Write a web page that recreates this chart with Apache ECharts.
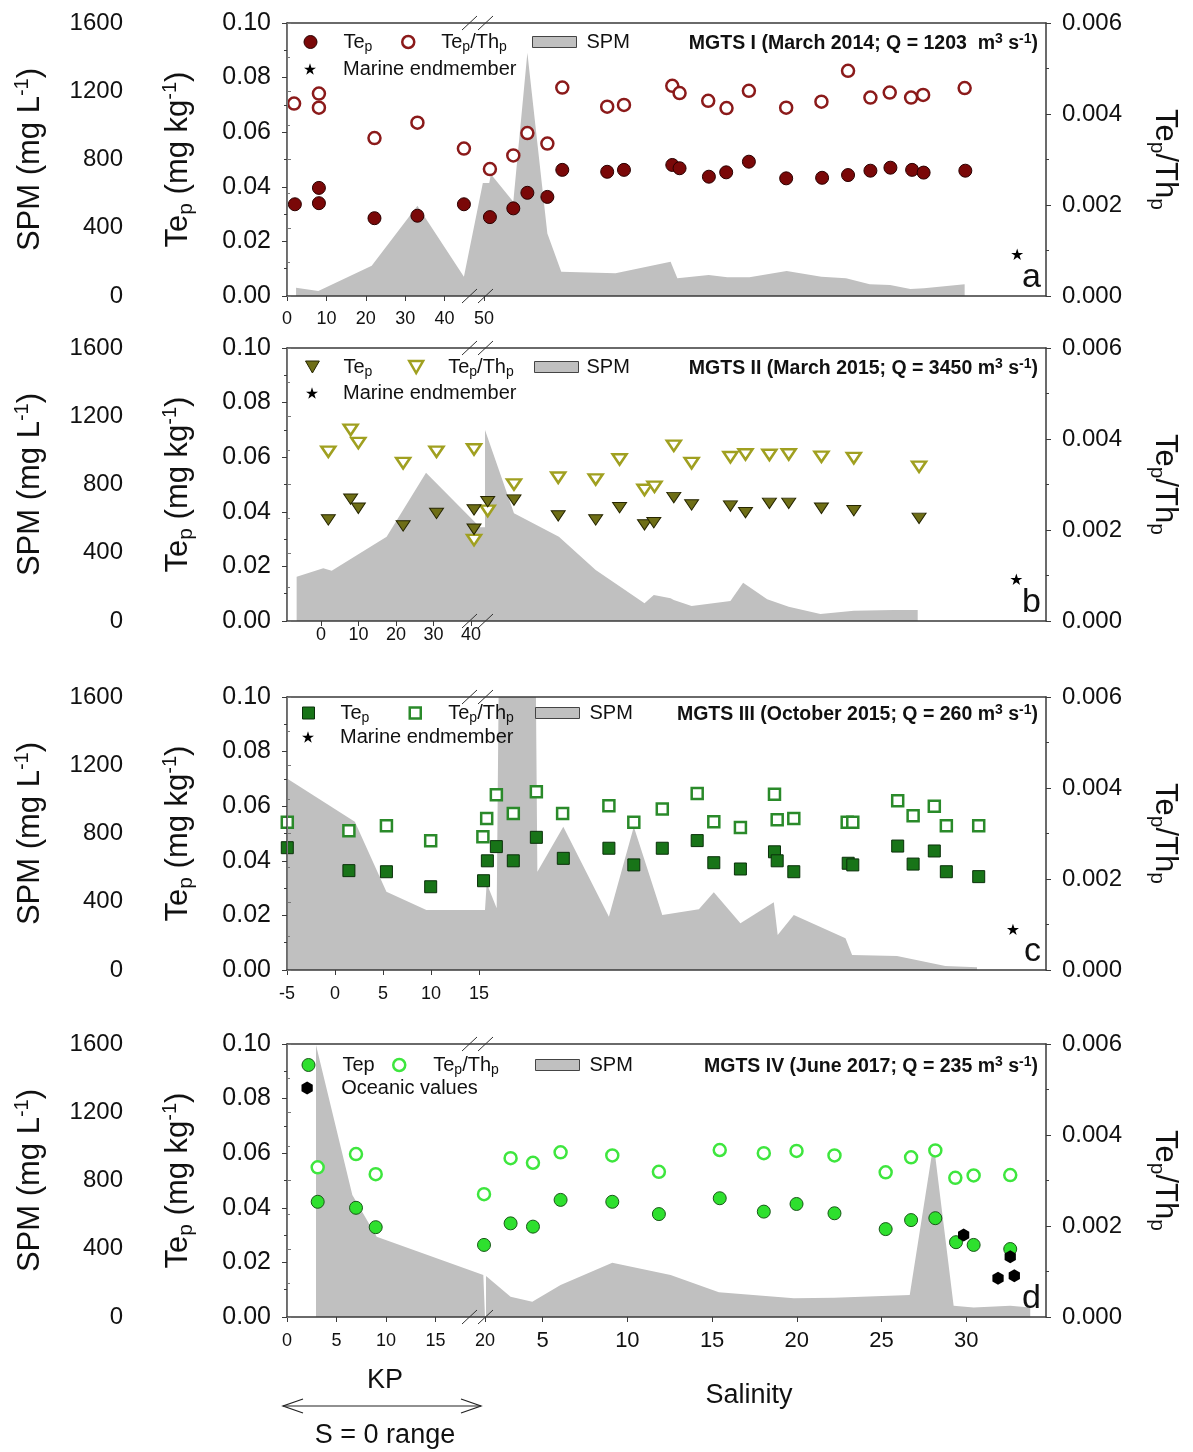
<!DOCTYPE html>
<html><head><meta charset="utf-8">
<script src="https://cdn.jsdelivr.net/npm/echarts@6/dist/echarts.min.js"></script>
<style>html,body{margin:0;padding:0;background:#fff}#c{width:1193px;height:1452px}</style>
</head><body><div id="c"></div><script>
// ===================== DATA =====================
// x: KP (km) on the left part of each panel, salinity on the right part
// Panel a — MGTS I (March 2014)
const aSpmKP  = [[2.3,49],[7.95,29],[21.5,178],[33.1,529],[44.9,113],[49.7,662],[50.25,662]];
const aSpmSal = [[1.6,662],[1.85,662],[1.95,713],[3.27,553],[4.1,1425],[5.28,367],[6.1,142],[9.3,133],[12.55,201],[12.65,197],[12.95,104],[14.8,123],[15.9,110],[17.2,110],[19.4,147],[21.45,113],[22.9,104],[24.3,69],[25.5,64],[26.7,41],[27.5,45],[29.9,69]];
const aTepKP  = [[2.0,0.0336],[8.1,0.0340],[8.1,0.0396],[22.2,0.0285],[33.1,0.0294],[44.9,0.0336]];
const aTepSal = [[1.89,0.0289],[3.27,0.0321],[4.10,0.0378],[5.28,0.0363],[6.16,0.0462],[8.81,0.0455],[9.80,0.0462],[12.65,0.0480],[13.08,0.0468],[14.81,0.0437],[15.83,0.0453],[17.17,0.0492],[19.37,0.0431],[21.49,0.0433],[23.02,0.0443],[24.34,0.0459],[25.52,0.0470],[26.80,0.0462],[27.48,0.0452],[29.94,0.0459]];
const aRatioKP  = [[1.8,0.00423],[8.1,0.00445],[8.1,0.00414],[22.2,0.00347],[33.1,0.00381],[44.9,0.00324]];
const aRatioSal = [[1.89,0.00279],[3.27,0.00309],[4.10,0.00358],[5.28,0.00335],[6.16,0.00458],[8.81,0.00416],[9.80,0.00420],[12.65,0.00462],[13.08,0.00446],[14.77,0.00429],[15.85,0.00413],[17.17,0.00451],[19.37,0.00414],[21.45,0.00427],[23.02,0.00495],[24.34,0.00436],[25.48,0.00447],[26.74,0.00436],[27.45,0.00442],[29.90,0.00457]];
const aMarine = [[33.0,0.0153]];

// Panel b — MGTS II (March 2015)
const bSpmKP  = [[-6.5,260],[0.6,309],[2.85,295],[17.5,494],[28,869],[42.4,549],[43.73,549]];
const bSpmSal = [[1.6,1119],[3.31,631],[5.96,494],[8.13,299],[11.01,104],[11.56,152],[12.55,133],[12.74,123],[13.79,88],[16.08,117],[16.83,224],[18.25,127],[19.52,84],[21.39,41],[23.36,60],[25.7,64],[27.13,64]];
const bTepKP  = [[1.95,0.0370],[7.9,0.0446],[9.95,0.0413],[21.9,0.0348],[30.8,0.0394],[40.8,0.0407],[40.8,0.0336]];
const bTepSal = [[1.76,0.0437],[3.31,0.0443],[5.92,0.0385],[8.13,0.0370],[9.54,0.0415],[11.01,0.0352],[11.56,0.0360],[12.74,0.0452],[13.79,0.0425],[16.08,0.0421],[16.97,0.0397],[18.38,0.0431],[19.52,0.0431],[21.45,0.0413],[23.36,0.0404],[27.21,0.0376]];
const bRatioKP  = [[1.95,0.00372],[7.9,0.00420],[9.95,0.00391],[21.9,0.00347],[30.8,0.00372],[40.8,0.00377],[40.8,0.00178]];
const bRatioSal = [[1.76,0.00242],[3.31,0.00300],[5.92,0.00315],[8.13,0.00311],[9.54,0.00355],[11.01,0.00288],[11.6,0.00295],[12.74,0.00385],[13.79,0.00347],[16.08,0.00360],[16.97,0.00366],[18.38,0.00365],[19.52,0.00366],[21.45,0.00361],[23.36,0.00358],[27.21,0.00339]];
const bMarine = [[32.95,0.0153]];

// Panel c — MGTS III (October 2015)
const cSpmKP  = [[-5,1123],[2.07,869],[5.36,459],[9.52,352],[15.63,352]];
const cSpmSal = [[1.6,352],[1.7,508],[2.29,362],[2.42,1800],[4.59,1800],[4.69,576],[6.22,840],[8.91,312],[10.38,840],[12.06,322],[14.22,356],[15.10,455],[16.67,274],[18.64,397],[18.87,205],[19.82,322],[22.87,186],[23.26,88],[25.91,82],[28.76,23],[30.63,16]];
const cTepKP  = [[-4.97,0.0448],[1.45,0.0364],[5.36,0.0360],[9.97,0.0305],[15.48,0.0327]];
const cTepSal = [[1.74,0.0400],[2.27,0.0452],[3.27,0.0400],[4.63,0.0486],[6.22,0.0409],[8.91,0.0446],[10.38,0.0385],[12.06,0.0446],[14.12,0.0474],[15.10,0.0393],[16.67,0.0370],[18.68,0.0433],[18.84,0.0400],[19.82,0.0360],[23.03,0.0391],[23.30,0.0385],[25.95,0.0454],[26.86,0.0388],[28.11,0.0436],[28.82,0.0360],[30.73,0.0342]];
const cRatioKP  = [[-4.97,0.00325],[1.45,0.00306],[5.36,0.00317],[9.97,0.00284],[15.41,0.00293]];
const cRatioSal = [[1.70,0.00333],[2.27,0.00385],[3.27,0.00344],[4.63,0.00392],[6.18,0.00344],[8.91,0.00361],[10.38,0.00325],[12.06,0.00354],[14.12,0.00388],[15.10,0.00326],[16.67,0.00313],[18.68,0.00386],[18.84,0.00330],[19.82,0.00333],[22.97,0.00325],[23.30,0.00325],[25.95,0.00372],[26.86,0.00339],[28.11,0.00360],[28.82,0.00317],[30.73,0.00317]];
const cMarine = [[32.75,0.0149]];

// Panel d — MGTS IV (June 2017)
const dSpmKP  = [[2.93,1594],[6.6,715],[9.06,471],[19.83,246],[20,246]];
const dSpmSal = [[1.66,240],[3.11,119],[4.39,90],[6.06,188],[9.11,318],[12.55,246],[15.4,145],[19.82,110],[22.2,113],[26.66,129],[28.07,1018],[29.25,66],[30.43,55],[32.59,66],[33.77,55]];
const dTepKP  = [[3.1,0.0422],[6.97,0.0400],[8.96,0.0329],[19.9,0.0264]];
const dTepSal = [[3.11,0.0343],[4.43,0.0331],[6.06,0.0429],[9.11,0.0422],[11.86,0.0377],[15.45,0.0435],[18.05,0.0386],[19.98,0.0414],[22.22,0.0380],[25.24,0.0322],[26.74,0.0355],[28.17,0.0362],[29.39,0.0274],[30.43,0.0264],[32.59,0.0249]];
const dRatioKP  = [[3.1,0.00329],[6.97,0.00358],[8.96,0.00314],[19.9,0.00270]];
const dRatioSal = [[3.11,0.00349],[4.43,0.00339],[6.06,0.00362],[9.11,0.00355],[11.86,0.00319],[15.45,0.00367],[18.05,0.00360],[19.98,0.00365],[22.22,0.00355],[25.24,0.00318],[26.74,0.00351],[28.17,0.00366],[29.35,0.00306],[30.43,0.00311],[32.59,0.00312]];
const dOceanic = [[29.84,0.0300],[32.59,0.0221],[31.87,0.0142],[32.83,0.0151]];

// Tick labels
const aKpTicks = [0,10,20,30,40,50];
const bKpTicks = [0,10,20,30,40];
const cKpTicks = [-5,0,5,10,15];
const dKpTicks = [0,5,10,15,20];
const dSalTicks = [5,10,15,20,25,30];

// ===================== LAYOUT / STYLE =====================
const FONT = "'Liberation Sans', Arial, sans-serif";
const AX = '#3a3a3a';
const SPM_COLOR = '#c0c0c0';
const L = 287, R = 1046, SPLIT = 485, H = 273;
const TRI_DOWN = 'path://M0,0 L12,0 L6,10.4 Z';
const STAR = 'path://M50,0 L61.8,35.4 L99,35.4 L69,57.3 L80.4,92.7 L50,70.8 L19.6,92.7 L31,57.3 L1,35.4 L38.2,35.4 Z';
const HEX = 'path://M50,0 L93.3,25 L93.3,75 L50,100 L6.7,75 L6.7,25 Z';

const panels = [
  { id:'a', top:23, kpMin:0, kpMax:50.25, kpTicks:aKpTicks, salTicks:[], kpMargin:14, salMargin:12,
    spmKP:aSpmKP, spmSal:aSpmSal, tepKP:aTepKP, tepSal:aTepSal, ratioKP:aRatioKP, ratioSal:aRatioSal,
    extra:aMarine, extraName:'Marine endmember', extraSym:STAR, extraSize:12,
    filled:{symbol:'circle', size:13, fill:'#7a0808', stroke:'#2a0000', bw:1},
    open:{symbol:'circle', size:12, fill:'#ffffff', stroke:'#8b1a1a', bw:2.5},
    tepLabel:'{g|}{t|Te}{s|p}', title:'{b|MGTS I (March 2014; Q = 1203  m}{p|3}{b| s}{p|-1}{b|)}',
    leg:{row1:44,row2:71, f:[310,343], o:[407,440], r:[532,586], e:[310,343]}, breakBottom:true },
  { id:'b', top:348, kpMin:-9.07, kpMax:43.73, kpTicks:bKpTicks, salTicks:[], kpMargin:5, salMargin:12,
    spmKP:bSpmKP, spmSal:bSpmSal, tepKP:bTepKP, tepSal:bTepSal, ratioKP:bRatioKP, ratioSal:bRatioSal,
    extra:bMarine, extraName:'Marine endmember', extraSym:STAR, extraSize:12,
    filled:{symbol:TRI_DOWN, size:[14,12], fill:'#6e6e16', stroke:'#252500', bw:1},
    open:{symbol:TRI_DOWN, size:[14,12], fill:'#ffffff', stroke:'#a0a020', bw:2.5},
    tepLabel:'{g|}{t|Te}{s|p}', title:'{b|MGTS II (March 2015; Q = 3450 m}{p|3}{b| s}{p|-1}{b|)}',
    leg:{row1:369,row2:395, f:[312,343], o:[415,447], r:[534,586], e:[312,343]}, breakBottom:true },
  { id:'c', top:697, kpMin:-5, kpMax:15.63, kpTicks:cKpTicks, salTicks:[], kpMargin:15, salMargin:12,
    spmKP:cSpmKP, spmSal:cSpmSal, tepKP:cTepKP, tepSal:cTepSal, ratioKP:cRatioKP, ratioSal:cRatioSal,
    extra:cMarine, extraName:'Marine endmember', extraSym:STAR, extraSize:12,
    filled:{symbol:'rect', size:12, fill:'#187418', stroke:'#0a300a', bw:1},
    open:{symbol:'rect', size:11, fill:'#ffffff', stroke:'#2a8a2a', bw:2.5},
    tepLabel:'{g|}{t|Te}{s|p}', title:'{b|MGTS III (October 2015; Q = 260 m}{p|3}{b| s}{p|-1}{b|)}',
    leg:{row1:715,row2:739, f:[308,340], o:[414,447], r:[535,589], e:[308,340]}, breakBottom:false },
  { id:'d', top:1044, kpMin:0, kpMax:20, kpTicks:dKpTicks, salTicks:dSalTicks, kpMargin:15, salMargin:13,
    spmKP:dSpmKP, spmSal:dSpmSal, tepKP:dTepKP, tepSal:dTepSal, ratioKP:dRatioKP, ratioSal:dRatioSal,
    extra:dOceanic, extraName:'Oceanic values', extraSym:HEX, extraSize:13,
    filled:{symbol:'circle', size:13, fill:'#2ee02e', stroke:'#185818', bw:1},
    open:{symbol:'circle', size:12, fill:'#ffffff', stroke:'#3ee63e', bw:2.5},
    tepLabel:'{g|}{t|Tep}', title:'{b|MGTS IV (June 2017; Q = 235 m}{p|3}{b| s}{p|-1}{b|)}',
    leg:{row1:1067,row2:1090, f:[308,342], o:[398,432], r:[535,589], e:[308,342]}, breakBottom:true }
];

const grid = [], xAxis = [], yAxis = [], series = [], legend = [], title = [], graphic = [];

const nameRich = {
  t:{fontSize:31, lineHeight:37, fontFamily:FONT, color:'#111'},
  s:{fontSize:21, lineHeight:21, fontFamily:FONT, color:'#111', verticalAlign:'bottom'},
  u:{fontSize:20, lineHeight:20, fontFamily:FONT, color:'#111', verticalAlign:'top'}
};
const titleRich = {
  b:{fontSize:19.5, fontWeight:'bold', fontFamily:FONT, color:'#111', lineHeight:24},
  p:{fontSize:14, fontWeight:'bold', fontFamily:FONT, color:'#111', lineHeight:13, verticalAlign:'top'}
};
function legRich(gap){
  return {
    g:{width:gap, height:1},
    t:{fontSize:20, lineHeight:24, fontFamily:FONT, color:'#111'},
    s:{fontSize:14, lineHeight:14, fontFamily:FONT, color:'#111', verticalAlign:'bottom'}
  };
}
function addLegend(name, label, iconLeft, iconW, iconH, textStart, rowY, icon, itemStyle){
  const gap = Math.max(0, textStart - (iconLeft + iconW + 5));
  legend.push({
    left: iconLeft, top: rowY - 12, orient:'horizontal', selectedMode:false,
    itemWidth: iconW, itemHeight: iconH, padding:0,
    data:[{name, icon, itemStyle}],
    formatter: () => label,
    textStyle:{rich: legRich(gap), fontFamily:FONT, fontSize:20, color:'#111'}
  });
}
function hiddenY(gi, max){ return {gridIndex:gi, type:'value', min:0, max, show:false}; }

panels.forEach(p => {
  const T = p.top, B = T + H;
  const gMain = grid.length; grid.push({left:L, top:T, width:R-L, height:H});
  const gKP = grid.length;   grid.push({left:L, top:T, width:SPLIT-L, height:H});
  const gSal = grid.length;  grid.push({left:SPLIT, top:T, width:R-SPLIT, height:H});

  // frame lines (main grid)
  ['bottom','top'].forEach(pos => xAxis.push({gridIndex:gMain, type:'value', min:0, max:1, position:pos, z:10,
    axisLine:{show:true, onZero:false, lineStyle:{color:AX, width:1.5}}, axisTick:{show:false}, axisLabel:{show:false}, splitLine:{show:false}}));
  const xKP = xAxis.length;
  xAxis.push({gridIndex:gKP, type:'value', min:p.kpMin, max:p.kpMax,
    axisLine:{show:false}, splitLine:{show:false},
    axisTick:{show:true, customValues:p.kpTicks, length:5, lineStyle:{color:AX}},
    axisLabel:{show:true, customValues:p.kpTicks, fontSize:18, margin:p.kpMargin, color:'#111', fontFamily:FONT}});
  const xSal = xAxis.length;
  const hasSal = p.salTicks.length > 0;
  xAxis.push({gridIndex:gSal, type:'value', min:1.6, max:34.7,
    axisLine:{show:false}, splitLine:{show:false},
    axisTick:hasSal ? {show:true, customValues:p.salTicks, length:5, lineStyle:{color:AX}} : {show:false},
    axisLabel:hasSal ? {show:true, customValues:p.salTicks, fontSize:22, margin:p.salMargin, color:'#111', fontFamily:FONT} : {show:false}});

  // visible y axes on main grid
  yAxis.push({gridIndex:gMain, type:'value', min:0, max:0.1, interval:0.02, position:'left', z:10,
    axisLine:{show:true, lineStyle:{color:AX, width:1.5}},
    axisTick:{show:true, length:5, lineStyle:{color:AX}},
    minorTick:{show:true, splitNumber:2, length:3, lineStyle:{color:AX}},
    axisLabel:{formatter:v => v.toFixed(2), fontSize:25, margin:16, color:'#111', fontFamily:FONT},
    splitLine:{show:false},
    name:'{t|Te}{s|p}{t| (mg kg}{u|-1}{t|)}', nameLocation:'middle', nameRotate:90, nameGap:90,
    nameTextStyle:{rich:nameRich}});
  yAxis.push({gridIndex:gMain, type:'value', min:0, max:1600, interval:400, position:'left', offset:150, z:10,
    axisLine:{show:true, lineStyle:{color:'#777', width:1}},
    axisTick:{show:true, inside:true, length:4, lineStyle:{color:'#777'}},
    minorTick:{show:true, splitNumber:2, length:3, lineStyle:{color:'#777'}},
    axisLabel:{formatter:v => String(v), fontSize:24, margin:14, color:'#111', fontFamily:FONT},
    splitLine:{show:false},
    name:'{t|SPM (mg L}{u|-1}{t|)}', nameLocation:'middle', nameRotate:90, nameGap:88,
    nameTextStyle:{rich:nameRich}});
  yAxis.push({gridIndex:gMain, type:'value', min:0, max:0.006, interval:0.002, position:'right', z:10,
    axisLine:{show:true, lineStyle:{color:AX, width:1.5}},
    axisTick:{show:true, length:5, lineStyle:{color:AX}},
    minorTick:{show:true, splitNumber:2, length:3, lineStyle:{color:AX}},
    axisLabel:{formatter:v => v.toFixed(3), fontSize:24, margin:16, color:'#111', fontFamily:FONT},
    splitLine:{show:false},
    name:'{t|Te}{s|p}{t|/Th}{s|p}', nameLocation:'middle', nameRotate:-90, nameGap:100,
    nameTextStyle:{rich:nameRich}});

  // hidden y axes for data grids
  const yKP = yAxis.length;  yAxis.push(hiddenY(gKP,0.1), hiddenY(gKP,1600), hiddenY(gKP,0.006));
  const ySal = yAxis.length; yAxis.push(hiddenY(gSal,0.1), hiddenY(gSal,1600), hiddenY(gSal,0.006));

  const nS = p.id+'-SPM', nT = p.id+'-Tep', nR = p.id+'-Ratio', nE = p.id+'-Extra';
  const area = (xi, yi, data) => ({type:'line', name:nS, xAxisIndex:xi, yAxisIndex:yi, data,
    symbol:'none', showSymbol:false, lineStyle:{width:0}, itemStyle:{color:SPM_COLOR},
    areaStyle:{color:SPM_COLOR, opacity:1}, z:1, silent:true, clip:true});
  const sc = (name, xi, yi, data, st, z) => ({type:'scatter', name, xAxisIndex:xi, yAxisIndex:yi, data,
    symbol:st.symbol, symbolSize:st.size, symbolKeepAspect:true,
    itemStyle:{color:st.fill, borderColor:st.stroke, borderWidth:st.bw, opacity:1}, z, silent:true});

  series.push(area(xKP, yKP+1, p.spmKP));
  series.push(area(xSal, ySal+1, p.spmSal));
  series.push(sc(nR, xKP, yKP+2, p.ratioKP, p.open, 3));
  series.push(sc(nR, xSal, ySal+2, p.ratioSal, p.open, 3));
  series.push(sc(nT, xKP, yKP, p.tepKP, p.filled, 4));
  series.push(sc(nT, xSal, ySal, p.tepSal, p.filled, 4));
  series.push(sc(nE, xSal, ySal, p.extra, {symbol:p.extraSym, size:p.extraSize, fill:'#000', stroke:'#000', bw:0}, 5));

  // legends (one component per item, positioned like the reference)
  const lg = p.leg;
  const fs = Array.isArray(p.filled.size) ? p.filled.size : [p.filled.size, p.filled.size];
  const os = Array.isArray(p.open.size) ? p.open.size : [p.open.size, p.open.size];
  addLegend(nT, p.tepLabel, lg.f[0]-fs[0]/2, fs[0], fs[1], lg.f[1], lg.row1, p.filled.symbol,
    {color:p.filled.fill, borderColor:p.filled.stroke, borderWidth:p.filled.bw});
  addLegend(nR, '{g|}{t|Te}{s|p}{t|/Th}{s|p}', lg.o[0]-os[0]/2, os[0], os[1], lg.o[1], lg.row1, p.open.symbol,
    {color:'#fff', borderColor:p.open.stroke, borderWidth:p.open.bw});
  addLegend(nS, '{g|}{t|SPM}', lg.r[0], 44, 11, lg.r[1], lg.row1, 'rect',
    {color:SPM_COLOR, borderColor:'#444', borderWidth:1});
  addLegend(nE, '{g|}{t|'+p.extraName+'}', lg.e[0]-p.extraSize/2, p.extraSize, p.extraSize, lg.e[1], lg.row2, p.extraSym,
    {color:'#000', borderWidth:0});

  // panel title
  title.push({text:p.title, right:1193-1038, top:lg.row1-12, padding:0, textStyle:{rich:titleRich}});

  // panel letter
  graphic.push({type:'text', x:1041, y:B-1, z:20, style:{text:p.id, fontSize:34, fontFamily:FONT, fill:'#111', align:'right', verticalAlign:'bottom'}});

  // axis break marks
  const brk = (y) => {
    [[462,477],[478,493]].forEach(([x0,x1]) => graphic.push({type:'line', z:20,
      shape:{x1:x0, y1:y+7, x2:x1, y2:y-7}, style:{stroke:'#333', lineWidth:1}}));
  };
  brk(T);
  if (p.breakBottom) brk(B);
});

// bottom annotations
graphic.push({type:'text', x:385, y:1381, style:{text:'KP', fontSize:27, fontFamily:FONT, fill:'#111', align:'center', verticalAlign:'middle'}});
graphic.push({type:'text', x:749, y:1396, style:{text:'Salinity', fontSize:27, fontFamily:FONT, fill:'#111', align:'center', verticalAlign:'middle'}});
graphic.push({type:'text', x:385, y:1436, style:{text:'S = 0 range', fontSize:27, fontFamily:FONT, fill:'#111', align:'center', verticalAlign:'middle'}});
graphic.push({type:'line', shape:{x1:283, y1:1406, x2:481, y2:1406}, style:{stroke:'#222', lineWidth:1.2}});
graphic.push({type:'polyline', shape:{points:[[303,1399],[283,1406],[303,1413]]}, style:{stroke:'#222', lineWidth:1.2, fill:null}});
graphic.push({type:'polyline', shape:{points:[[461,1399],[481,1406],[461,1413]]}, style:{stroke:'#222', lineWidth:1.2, fill:null}});

const chart = echarts.init(document.getElementById('c'), null, {renderer:'canvas', width:1193, height:1452});
chart.setOption({
  animation:false,
  backgroundColor:'#ffffff',
  textStyle:{fontFamily:FONT},
  title, legend, grid, xAxis, yAxis, series, graphic
});
</script></body></html>
